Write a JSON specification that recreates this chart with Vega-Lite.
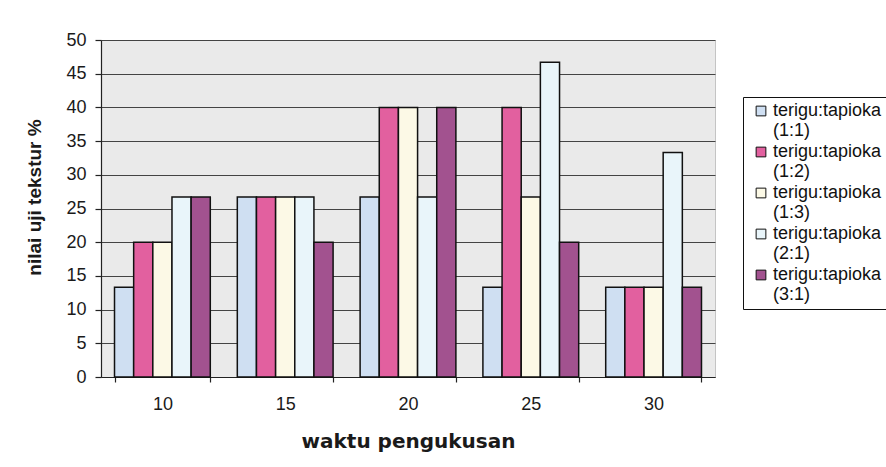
{
  "$schema": "https://vega.github.io/schema/vega-lite/v6.json",
  "autosize": {"type": "none"},
  "width": 614,
  "height": 337,
  "padding": {"left": 101, "top": 40, "right": 171, "bottom": 90},
  "background": "white",
  "data": {
    "values": [
      {"waktu": "10", "rasio": "terigu:tapioka (1:1)", "nilai": 13.3},
      {"waktu": "10", "rasio": "terigu:tapioka (1:2)", "nilai": 20},
      {"waktu": "10", "rasio": "terigu:tapioka (1:3)", "nilai": 20},
      {"waktu": "10", "rasio": "terigu:tapioka (2:1)", "nilai": 26.7},
      {"waktu": "10", "rasio": "terigu:tapioka (3:1)", "nilai": 26.7},
      {"waktu": "15", "rasio": "terigu:tapioka (1:1)", "nilai": 26.7},
      {"waktu": "15", "rasio": "terigu:tapioka (1:2)", "nilai": 26.7},
      {"waktu": "15", "rasio": "terigu:tapioka (1:3)", "nilai": 26.7},
      {"waktu": "15", "rasio": "terigu:tapioka (2:1)", "nilai": 26.7},
      {"waktu": "15", "rasio": "terigu:tapioka (3:1)", "nilai": 20},
      {"waktu": "20", "rasio": "terigu:tapioka (1:1)", "nilai": 26.7},
      {"waktu": "20", "rasio": "terigu:tapioka (1:2)", "nilai": 40},
      {"waktu": "20", "rasio": "terigu:tapioka (1:3)", "nilai": 40},
      {"waktu": "20", "rasio": "terigu:tapioka (2:1)", "nilai": 26.7},
      {"waktu": "20", "rasio": "terigu:tapioka (3:1)", "nilai": 40},
      {"waktu": "25", "rasio": "terigu:tapioka (1:1)", "nilai": 13.3},
      {"waktu": "25", "rasio": "terigu:tapioka (1:2)", "nilai": 40},
      {"waktu": "25", "rasio": "terigu:tapioka (1:3)", "nilai": 26.7},
      {"waktu": "25", "rasio": "terigu:tapioka (2:1)", "nilai": 46.7},
      {"waktu": "25", "rasio": "terigu:tapioka (3:1)", "nilai": 20},
      {"waktu": "30", "rasio": "terigu:tapioka (1:1)", "nilai": 13.3},
      {"waktu": "30", "rasio": "terigu:tapioka (1:2)", "nilai": 13.3},
      {"waktu": "30", "rasio": "terigu:tapioka (1:3)", "nilai": 13.3},
      {"waktu": "30", "rasio": "terigu:tapioka (2:1)", "nilai": 33.3},
      {"waktu": "30", "rasio": "terigu:tapioka (3:1)", "nilai": 13.3}
    ]
  },
  "mark": {"type": "bar", "stroke": "#111111", "strokeWidth": 1.5},
  "encoding": {
    "x": {
      "field": "waktu",
      "type": "nominal",
      "scale": {"paddingInner": 0.22, "paddingOuter": 0.11},
      "axis": {
        "title": "waktu pengukusan",
        "labelAngle": 0,
        "tickBand": "extent",
        "tickSize": 5,
        "labelPadding": 13,
        "titlePadding": 18,
        "titleFont": "DejaVu Sans",
        "titleFontSize": 20,
        "titleFontWeight": "bold"
      }
    },
    "xOffset": {"field": "rasio", "type": "nominal", "scale": {"paddingInner": 0, "paddingOuter": 0}},
    "y": {
      "field": "nilai",
      "type": "quantitative",
      "scale": {"domain": [0, 50]},
      "axis": {
        "title": "nilai  uji tekstur %",
        "values": [0, 5, 10, 15, 20, 25, 30, 35, 40, 45, 50],
        "tickSize": 6,
        "labelPadding": 9,
        "titlePadding": 21,
        "titleY": 157,
        "titleFont": "Liberation Sans",
        "titleFontSize": 19,
        "titleFontWeight": "bold",
        "grid": true
      }
    },
    "fill": {
      "field": "rasio",
      "type": "nominal",
      "scale": {
        "range": ["#cfdff2", "#e2609f", "#fcf9e6", "#e9f5fa", "#a2528f"]
      },
      "legend": {
        "title": null,
        "orient": "none",
        "legendX": 642,
        "legendY": 57,
        "symbolType": "square",
        "symbolSize": 95,
        "symbolStrokeColor": "#111111",
        "symbolStrokeWidth": 1,
        "symbolOffset": 4,
        "labelOffset": 3,
        "labelFont": "Liberation Sans",
        "labelFontSize": 18,
        "labelLineHeight": 16,
        "labelColor": "#111111",
        "labelLimit": 300,
        "labelExpr": "split(datum.label, ' ')",
        "rowPadding": 3,
        "strokeColor": "#111111",
        "fillColor": "white",
        "padding": 5
      }
    }
  },
  "config": {
    "font": "Liberation Sans",
    "view": {"fill": "#eaeaea", "stroke": "#c4c4c4", "strokeWidth": 1},
    "axis": {
      "labelFont": "Liberation Sans",
      "labelFontSize": 18,
      "labelColor": "#1a1a1a",
      "titleColor": "#1a1a1a",
      "domainColor": "#222222",
      "domainWidth": 1.2,
      "tickColor": "#222222",
      "tickWidth": 1.2,
      "gridColor": "#444444",
      "gridWidth": 1,
      "gridOpacity": 1
    },
    "axisX": {"grid": false}
  }
}
